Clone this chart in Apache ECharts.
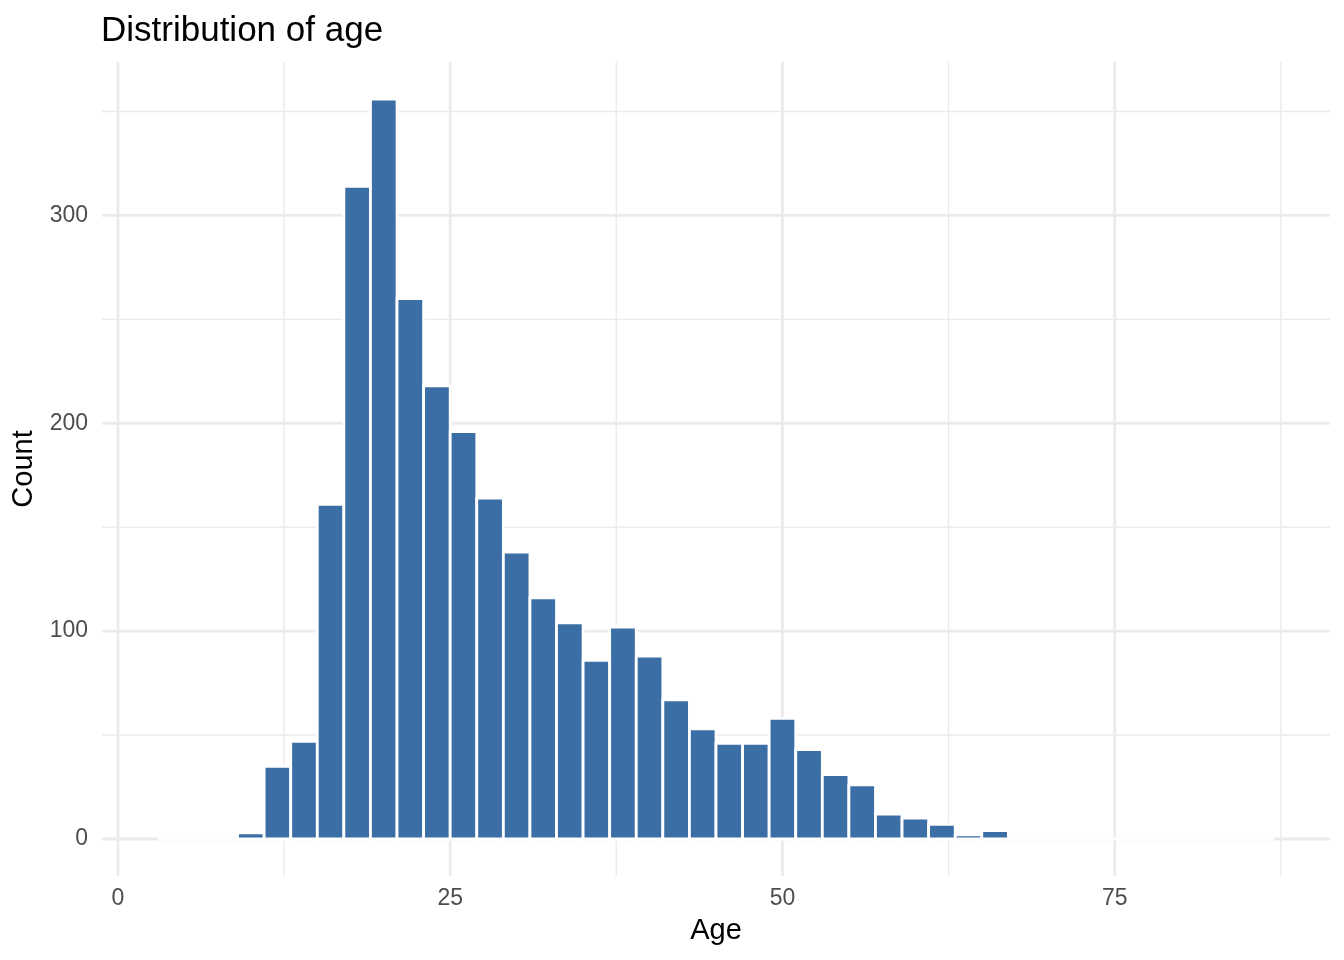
<!DOCTYPE html>
<html>
<head>
<meta charset="utf-8">
<title>Distribution of age</title>
<script src="https://cdn.jsdelivr.net/npm/echarts@6/dist/echarts.min.js"></script>
<style>
  html, body { margin: 0; padding: 0; background: #fff; }
  #chart { width: 1344px; height: 960px; }
</style>
</head>
<body>
<div id="chart"></div>
<script>
// histogram bins (left edge of each bin, width 2 years)
const binWidth = 2;
const binLeft = [3, 5, 7, 9, 11, 13, 15, 17, 19, 21, 23, 25, 27, 29, 31, 33, 35, 37, 39, 41,
  43, 45, 47, 49, 51, 53, 55, 57, 59, 61, 63, 65, 67, 69, 71, 73, 75, 77, 79, 81, 83, 85];
const counts = [0, 0, 0, 3, 35, 47, 161, 314, 356, 260, 218, 196, 164, 138, 116, 104, 86, 102, 88, 67,
  53, 46, 46, 58, 43, 31, 26, 12, 10, 7, 2, 4, 0, 0, 0, 0, 0, 0, 0, 0, 0, 0];

// axis breaks
const xTicks = [0, 25, 50, 75];
const xMinor = [12.5, 37.5, 62.5, 87.5];
const yTicks = [0, 100, 200, 300];
const yMinor = [50, 150, 250, 350];

// ggplot style 5% expansion of the data range
const xLo = binLeft[0], xHi = binLeft[binLeft.length - 1] + binWidth;
const yHi = Math.max.apply(null, counts);
const xPad = (xHi - xLo) * 0.05, yPad = yHi * 0.05;

const FONT = 'Liberation Sans, Arial, Helvetica, sans-serif';
const GRID_COLOR = '#EBEBEB';

const histData = binLeft.map((l, i) => [l, l + binWidth, counts[i]]);

// 网格线用custom画, 因为min不是整数倍
function vLines(width) {
  return function(params, api) {
    const cs = params.coordSys;
    const x = api.coord([api.value(0), 0])[0];
    return {
      type: 'line',
      shape: { x1: x, y1: cs.y, x2: x, y2: cs.y + cs.height },
      style: { stroke: GRID_COLOR, lineWidth: width }
    };
  };
}
function hLines(width) {
  return function(params, api) {
    const cs = params.coordSys;
    const y = api.coord([0, api.value(1)])[1];
    return {
      type: 'line',
      shape: { x1: cs.x, y1: y, x2: cs.x + cs.width, y2: y },
      style: { stroke: GRID_COLOR, lineWidth: width }
    };
  };
}

const chart = echarts.init(document.getElementById('chart'));
chart.setOption({
  backgroundColor: '#fff',
  animation: false,
  title: {
    text: 'Distribution of age',
    left: 96,
    top: 9,
    textStyle: { fontFamily: FONT, fontSize: 35, fontWeight: 'normal', color: '#000' }
  },
  grid: {
    left: 102,
    right: 14,
    top: 62,
    bottom: 84,
    containLabel: false,
    outerBoundsMode: 'none'
  },
  xAxis: {
    type: 'value',
    min: xLo - xPad,
    max: xHi + xPad,
    name: 'Age',
    nameLocation: 'middle',
    nameGap: 40,
    nameTextStyle: { fontFamily: FONT, fontSize: 29, color: '#000' },
    axisLine: { show: false, onZero: false },
    axisTick: { show: false },
    splitLine: { show: false },
    axisLabel: {
      customValues: xTicks,
      margin: 11,
      fontFamily: FONT,
      fontSize: 23,
      color: '#4D4D4D'
    }
  },
  yAxis: {
    type: 'value',
    min: -yPad,
    max: yHi + yPad,
    name: 'Count',
    nameLocation: 'middle',
    nameGap: 56,
    nameTextStyle: { fontFamily: FONT, fontSize: 29, color: '#000' },
    axisLine: { show: false, onZero: false },
    axisTick: { show: false },
    splitLine: { show: false },
    axisLabel: {
      customValues: yTicks,
      margin: 14,
      fontFamily: FONT,
      fontSize: 23,
      color: '#4D4D4D'
    }
  },
  series: [
    { type: 'custom', silent: true, z: 1, renderItem: vLines(1.4), data: xMinor.map(v => [v, 0]) },
    { type: 'custom', silent: true, z: 1, renderItem: hLines(1.4), data: yMinor.map(v => [0, v]) },
    { type: 'custom', silent: true, z: 1, renderItem: vLines(2.8), data: xTicks.map(v => [v, 0]) },
    { type: 'custom', silent: true, z: 1, renderItem: hLines(2.8), data: yTicks.map(v => [0, v]) },
    {
      type: 'custom',
      name: 'Count',
      z: 2,
      data: histData,
      encode: { x: [0, 1], y: 2 },
      renderItem: function(params, api) {
        const p0 = api.coord([api.value(0), 0]);
        const p1 = api.coord([api.value(1), api.value(2)]);
        return {
          type: 'rect',
          shape: { x: p0[0], y: p1[1], width: p1[0] - p0[0], height: p0[1] - p1[1] },
          style: { fill: '#3A6EA5', stroke: '#fff', lineWidth: 2.8 }
        };
      }
    }
  ]
});
</script>
</body>
</html>
